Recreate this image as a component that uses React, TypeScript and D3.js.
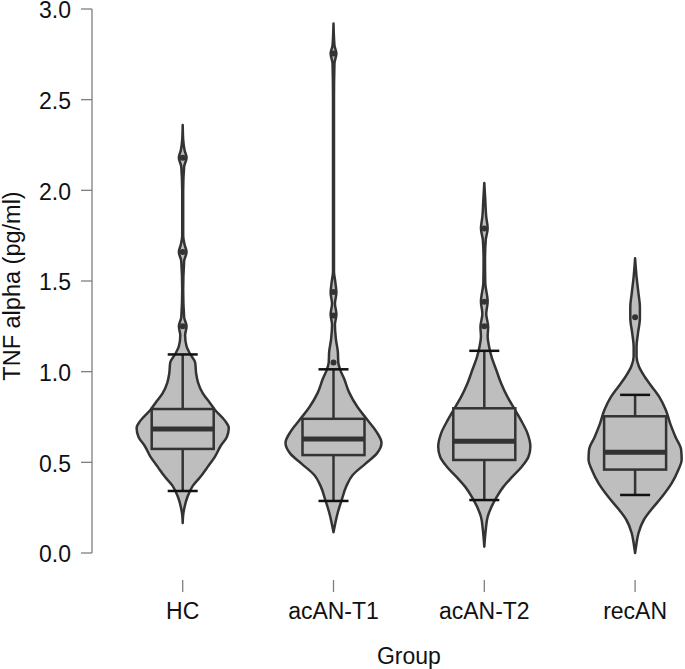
import { useRef, useEffect } from "react";
import * as d3 from "d3";

type Profile = [number, number][];

const groups = ["HC", "acAN-T1", "acAN-T2", "recAN"];
const yTicks = [0, 0.5, 1, 1.5, 2, 2.5, 3];

// violin outlines: [value, relative density]
const hcProfile: Profile = [
  [2.36, 0], [2.28, 0.01], [2.22, 0.04], [2.18, 0.08], [2.13, 0.03], [2.0, 0.01],
  [1.75, 0.01], [1.7, 0.04], [1.66, 0.08], [1.61, 0.03], [1.45, 0.01], [1.3, 0.03],
  [1.25, 0.08], [1.2, 0.05], [1.14, 0.08], [1.1, 0.15], [1.05, 0.26], [0.99, 0.28],
  [0.94, 0.32], [0.88, 0.42], [0.83, 0.56], [0.79, 0.67], [0.73, 0.88], [0.69, 0.96],
  [0.64, 0.92], [0.59, 0.79], [0.53, 0.67], [0.475, 0.52], [0.42, 0.37], [0.37, 0.21],
  [0.31, 0.1], [0.255, 0.04], [0.21, 0.01], [0.165, 0],
];
const t1Profile: Profile = [
  [2.92, 0], [2.8, 0.02], [2.755, 0.06], [2.7, 0.02], [2.5, 0.01], [1.553, 0.01],
  [1.49, 0.04], [1.435, 0.06], [1.376, 0.03], [1.317, 0.06], [1.258, 0.03], [1.18, 0.05],
  [1.11, 0.09], [1.05, 0.1], [1.01, 0.14], [0.962, 0.22], [0.883, 0.33], [0.805, 0.5],
  [0.736, 0.7], [0.667, 0.9], [0.607, 1.0], [0.548, 0.9], [0.489, 0.65], [0.43, 0.4],
  [0.37, 0.27], [0.292, 0.17], [0.214, 0.08], [0.154, 0.03], [0.115, 0],
];
const t2Profile: Profile = [
  [2.04, 0], [1.947, 0.02], [1.855, 0.04], [1.79, 0.07], [1.726, 0.03], [1.616, 0.015],
  [1.49, 0.02], [1.386, 0.07], [1.32, 0.04], [1.247, 0.08], [1.193, 0.07], [1.138, 0.1],
  [1.083, 0.15], [1.009, 0.25], [0.936, 0.35], [0.862, 0.48], [0.798, 0.62], [0.734, 0.76],
  [0.66, 0.9], [0.586, 0.96], [0.531, 0.92], [0.476, 0.78], [0.42, 0.58], [0.366, 0.4],
  [0.31, 0.26], [0.255, 0.15], [0.2, 0.07], [0.127, 0.03], [0.035, 0],
];
const recProfile: Profile = [
  [1.625, 0], [1.524, 0.03], [1.432, 0.07], [1.358, 0.1], [1.295, 0.1], [1.212, 0.06],
  [1.138, 0.03], [1.083, 0.03], [1.028, 0.08], [0.972, 0.2], [0.917, 0.35], [0.862, 0.5],
  [0.789, 0.64], [0.715, 0.73], [0.641, 0.84], [0.568, 0.96], [0.513, 0.97], [0.458, 0.9],
  [0.384, 0.76], [0.31, 0.56], [0.237, 0.33], [0.182, 0.18], [0.109, 0.07], [0.054, 0.03],
  [0, 0],
];
const profiles = [hcProfile, t1Profile, t2Profile, recProfile];

// box statistics
const whiskerLow = [0.342, 0.287, 0.292, 0.32];
const q1 = [0.574, 0.54, 0.513, 0.46];
const median = [0.684, 0.629, 0.616, 0.555];
const q3 = [0.794, 0.74, 0.798, 0.754];
const whiskerHigh = [1.095, 1.013, 1.115, 0.872];
const outliers = [
  [1.25, 1.66, 2.18],
  [1.05, 1.31, 1.44, 2.755],
  [1.25, 1.386, 1.79],
  [1.3],
];

const W = 685;
const H = 669;
const FONT = "'Liberation Sans', Arial, sans-serif";
const DARK = "#333333";
const FILL = "#bebebe";

const App = () => {
  const svgRef = useRef<SVGSVGElement>(null);

  useEffect(() => {
    if (!svgRef.current) return;
    const svg = d3.select(svgRef.current);
    svg.selectAll("*").remove();

    const y = d3.scaleLinear().domain([0, 3]).range([553, 9]);
    const x = d3.scaleLinear().domain([0, 3]).range([182.7, 635.1]);
    const w = d3.scaleLinear().domain([0, 1]).range([0, 48]);
    const boxHalf = 31;
    const capHalf = 15;

    const g = svg.append("g");

    groups.forEach((name, i) => {
      const cx = x(i);
      const area = d3
        .area<[number, number]>()
        .y((d) => y(d[0]))
        .x0((d) => cx - w(d[1]))
        .x1((d) => cx + w(d[1]))
        .curve(d3.curveMonotoneY);
      g.append("path")
        .attr("d", area(profiles[i]) ?? "")
        .attr("fill", FILL)
        .attr("stroke", DARK)
        .attr("stroke-width", 2.5)
        .attr("stroke-linejoin", "round");

      // whiskers
      g.append("line")
        .attr("x1", cx).attr("x2", cx)
        .attr("y1", y(q3[i])).attr("y2", y(whiskerHigh[i]))
        .attr("stroke", DARK).attr("stroke-width", 2.5);
      g.append("line")
        .attr("x1", cx).attr("x2", cx)
        .attr("y1", y(q1[i])).attr("y2", y(whiskerLow[i]))
        .attr("stroke", DARK).attr("stroke-width", 2.5);
      [whiskerHigh[i], whiskerLow[i]].forEach((v) => {
        g.append("line")
          .attr("x1", cx - capHalf).attr("x2", cx + capHalf)
          .attr("y1", y(v)).attr("y2", y(v))
          .attr("stroke", "#111").attr("stroke-width", 2.5);
      });

      // box
      g.append("rect")
        .attr("x", cx - boxHalf)
        .attr("y", y(q3[i]))
        .attr("width", boxHalf * 2)
        .attr("height", y(q1[i]) - y(q3[i]))
        .attr("fill", FILL)
        .attr("stroke", DARK)
        .attr("stroke-width", 2.5);
      g.append("line")
        .attr("x1", cx - boxHalf).attr("x2", cx + boxHalf)
        .attr("y1", y(median[i])).attr("y2", y(median[i]))
        .attr("stroke", DARK).attr("stroke-width", 5);

      g.selectAll(null)
        .data(outliers[i])
        .enter()
        .append("circle")
        .attr("cx", cx)
        .attr("cy", (d) => y(d))
        .attr("r", 3)
        .attr("fill", DARK);
    });

    // y axis
    const ya = svg.append("g").attr("font-family", FONT).attr("font-size", 23);
    ya.append("line")
      .attr("x1", 92).attr("x2", 92)
      .attr("y1", y(0)).attr("y2", y(3))
      .attr("stroke", "#7f7f7f").attr("stroke-width", 1.3);
    yTicks.forEach((t) => {
      ya.append("line")
        .attr("x1", 81).attr("x2", 92)
        .attr("y1", y(t)).attr("y2", y(t))
        .attr("stroke", "#7f7f7f").attr("stroke-width", 1.3);
      ya.append("text")
        .attr("x", 71)
        .attr("y", y(t))
        .attr("dy", "0.4em")
        .attr("text-anchor", "end")
        .attr("fill", "#111")
        .text(d3.format(".1f")(t));
    });
    ya.append("text")
      .attr("transform", `translate(20,${y(1.5) + 5}) rotate(-90)`)
      .attr("text-anchor", "middle")
      .attr("font-size", 23.5)
      .attr("fill", "#111")
      .text("TNF alpha (pg/ml)");

    // x axis (ticks only)
    const xa = svg.append("g").attr("font-family", FONT).attr("font-size", 23);
    groups.forEach((name, i) => {
      xa.append("line")
        .attr("x1", x(i)).attr("x2", x(i))
        .attr("y1", 580).attr("y2", 592)
        .attr("stroke", "#7f7f7f").attr("stroke-width", 1.3);
      xa.append("text")
        .attr("x", x(i))
        .attr("y", 619)
        .attr("text-anchor", "middle")
        .attr("fill", "#111")
        .text(name);
    });
    xa.append("text")
      .attr("x", (x(0) + x(3)) / 2)
      .attr("y", 664)
      .attr("text-anchor", "middle")
      .attr("fill", "#111")
      .text("Group");
  }, []);

  return (
    <svg
      ref={svgRef}
      width={W}
      height={H}
      style={{ position: "absolute", left: 0, top: 0, background: "#fff" }}
    />
  );
};

export default App;
